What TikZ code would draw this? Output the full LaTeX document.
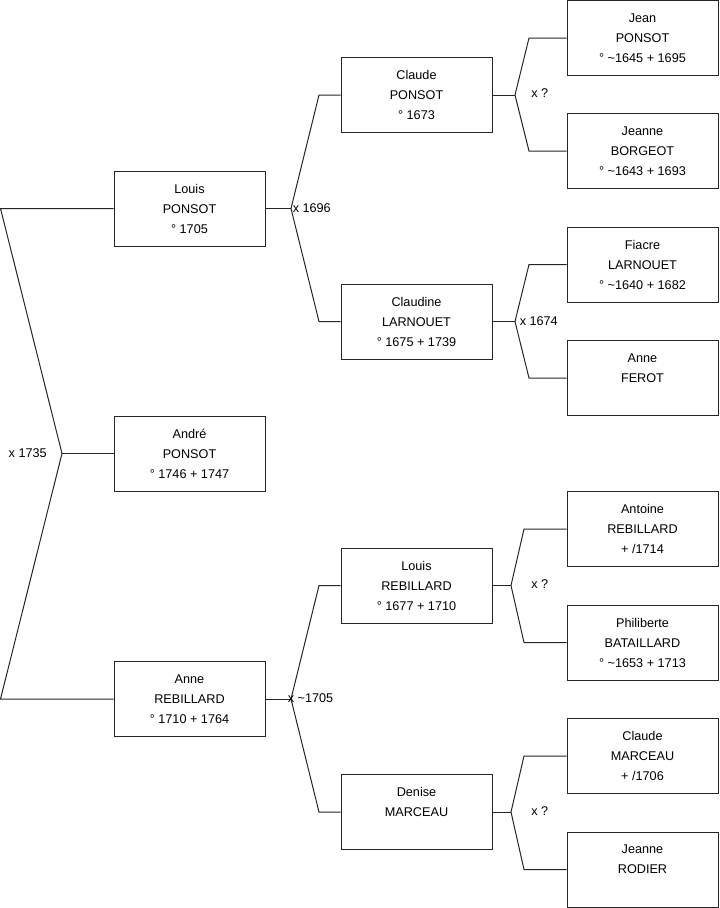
\documentclass[tikz,border=0pt]{standalone}
\usepackage{fontspec}
\setmainfont{Liberation Sans}
\begin{document}
\begin{tikzpicture}[x=0.75pt,y=-0.75pt,
  person/.style={draw=black!85,line width=0.75pt,minimum width=113.25pt,minimum height=56.25pt,
    inner sep=0pt,align=center,font=\fontsize{9.5}{15}\selectfont},
  conn/.style={draw=black!85,line width=0.75pt},
  lab/.style={font=\fontsize{9.5}{12}\selectfont,inner sep=0pt}]
\useasboundingbox (0,0) rectangle (719,908);
% column 1
\node[person] (louisP) at (189.5,208.5) {Louis\\PONSOT\\° 1705};
\node[person] (andre) at (189.5,453.5) {André\\PONSOT\\° 1746 + 1747};
\node[person] (anneR) at (189.5,699) {Anne\\REBILLARD\\° 1710 + 1764};
% column 2
\node[person] (claudeP) at (416.5,95) {Claude\\PONSOT\\° 1673};
\node[person] (claudine) at (416.5,321.5) {Claudine\\LARNOUET\\° 1675 + 1739};
\node[person] (louisR) at (416.5,585.5) {Louis\\REBILLARD\\° 1677 + 1710};
\node[person] (denise) at (416.5,812) {Denise\\MARCEAU\\\phantom{0}};
% column 3
\node[person] (jean) at (642.5,38) {Jean\\PONSOT\\° \textasciitilde1645 + 1695};
\node[person] (jeanneB) at (642.5,151) {Jeanne\\BORGEOT\\° \textasciitilde1643 + 1693};
\node[person] (fiacre) at (642.5,264.5) {Fiacre\\LARNOUET\\° \textasciitilde1640 + 1682};
\node[person] (anneF) at (642.5,378) {Anne\\FEROT\\\phantom{0}};
\node[person] (antoine) at (642.5,529) {Antoine\\REBILLARD\\+ /1714};
\node[person] (philib) at (642.5,642.5) {Philiberte\\BATAILLARD\\° \textasciitilde1653 + 1713};
\node[person] (claudeM) at (642.5,756) {Claude\\MARCEAU\\+ /1706};
\node[person] (jeanneR) at (642.5,869.5) {Jeanne\\RODIER\\\phantom{0}};
% junction points
\coordinate (r1) at (0.5,208.5);
\coordinate (r2) at (0.5,699);
\coordinate (j0) at (62,453.5);
\coordinate (j1) at (291,208.5);
\coordinate (j1a) at (319,95);
\coordinate (j1b) at (319,321.5);
\coordinate (j2) at (291,699);
\coordinate (j2a) at (319,585.5);
\coordinate (j2b) at (319,812);
\coordinate (j3) at (515,95);
\coordinate (j3a) at (529,38);
\coordinate (j3b) at (529,151);
\coordinate (j4) at (515,321.5);
\coordinate (j4a) at (529,264.5);
\coordinate (j4b) at (529,378);
\coordinate (j5) at (511,585.5);
\coordinate (j5a) at (524,529);
\coordinate (j5b) at (524,642.5);
\coordinate (j6) at (511,812);
\coordinate (j6a) at (524,756);
\coordinate (j6b) at (524,869.5);
% connectors
\draw[conn] (louisP.west) -- (r1) -- (j0) -- (r2) -- (anneR.west);
\draw[conn] (j0) -- (andre.west);
\draw[conn] (louisP.east) -- (j1);
\draw[conn] (claudeP.west) -- (j1a) -- (j1) -- (j1b) -- (claudine.west);
\draw[conn] (anneR.east) -- (j2);
\draw[conn] (louisR.west) -- (j2a) -- (j2) -- (j2b) -- (denise.west);
\draw[conn] (claudeP.east) -- (j3);
\draw[conn] (jean.west) -- (j3a) -- (j3) -- (j3b) -- (jeanneB.west);
\draw[conn] (claudine.east) -- (j4);
\draw[conn] (fiacre.west) -- (j4a) -- (j4) -- (j4b) -- (anneF.west);
\draw[conn] (louisR.east) -- (j5);
\draw[conn] (antoine.west) -- (j5a) -- (j5) -- (j5b) -- (philib.west);
\draw[conn] (denise.east) -- (j6);
\draw[conn] (claudeM.west) -- (j6a) -- (j6) -- (j6b) -- (jeanneR.west);
% marriage labels
\node[lab,anchor=east] (m0) at (47,453) {x 1735};
\node[lab,anchor=west] (m1) at (292.5,208) {x 1696};
\node[lab,anchor=west] (m2) at (287.5,698.5) {x \textasciitilde1705};
\node[lab,anchor=west] (m3) at (531,93) {x ?};
\node[lab,anchor=west] (m4) at (519.5,321) {x 1674};
\node[lab,anchor=west] (m5) at (531,584) {x ?};
\node[lab,anchor=west] (m6) at (531,811) {x ?};
\end{tikzpicture}
\end{document}
